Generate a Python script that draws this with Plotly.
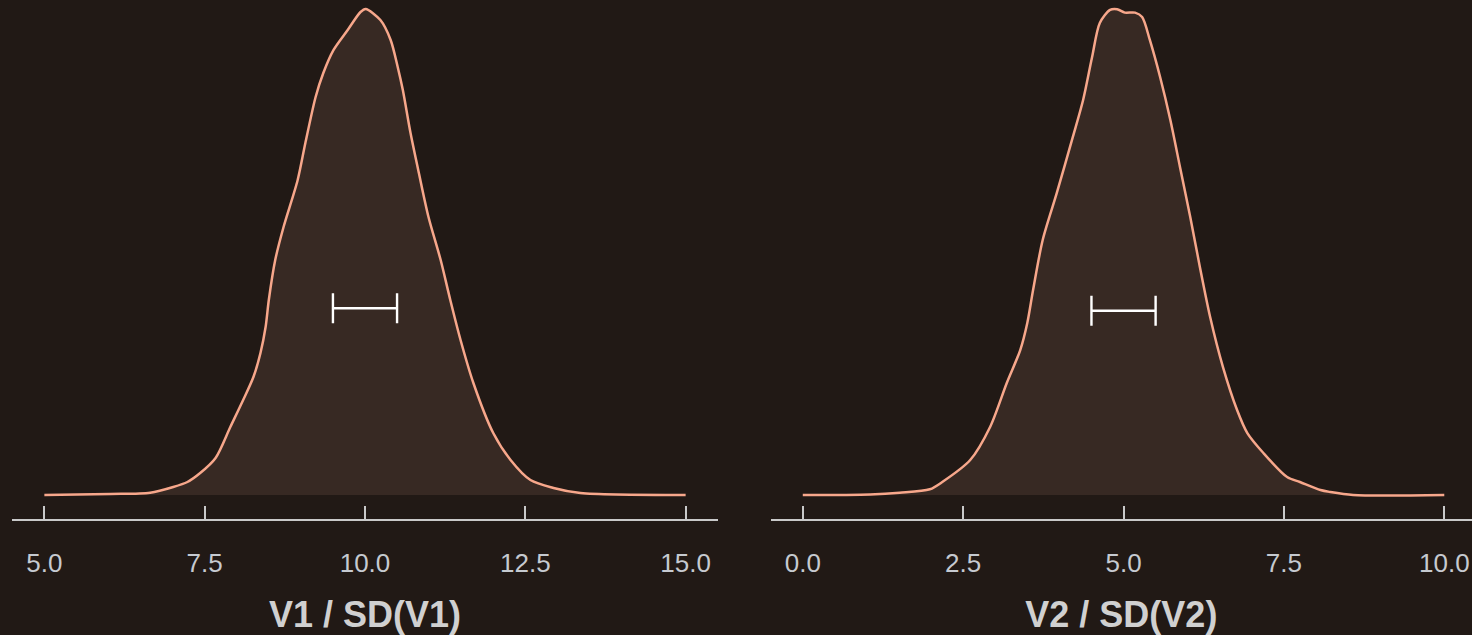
import plotly.graph_objects as go

# Density curve of V1 / SD(V1)
v1_x = [5.00, 6.03, 6.65, 7.01, 7.23, 7.43, 7.67, 7.90, 8.10, 8.26, 8.37, 8.45, 8.50, 8.60, 8.73,
        8.95, 9.07, 9.23, 9.35, 9.51, 9.73, 9.93, 10.01, 10.24, 10.40, 10.51, 10.59, 10.71, 10.84,
        10.99, 11.18, 11.33, 11.49, 11.69, 12.00, 12.27, 12.58, 12.94, 13.36, 15.00]
v1_y = [0.000, 0.0008, 0.0019, 0.0066, 0.0107, 0.0181, 0.0305, 0.056, 0.0782, 0.0971, 0.1169,
        0.1383, 0.1605, 0.1934, 0.2206, 0.2593, 0.2897, 0.3276, 0.3473, 0.3663, 0.3827, 0.3975,
        0.400, 0.3909, 0.3745, 0.3523, 0.3333, 0.2979, 0.265, 0.2288, 0.1934, 0.1605, 0.1276,
        0.0922, 0.051, 0.0288, 0.0123, 0.0058, 0.0016, 0.000]

# Density curve of V2 / SD(V2)
v2_x = [0.00, 1.05, 1.51, 1.98, 2.18, 2.61, 2.92, 3.18, 3.39, 3.50, 3.59, 3.74, 3.96, 4.21, 4.37,
        4.51, 4.63, 4.79, 4.90, 5.02, 5.18, 5.29, 5.41, 5.57, 5.73, 5.88, 6.04, 6.19, 6.35, 6.55,
        6.77, 6.93, 7.18, 7.55, 7.75, 8.07, 8.22, 8.58, 10.00]
v2_y = [0.000, 0.0005, 0.0019, 0.0047, 0.0109, 0.0288, 0.056, 0.0922, 0.1193, 0.1416, 0.1687,
        0.2099, 0.2486, 0.2947, 0.3251, 0.3605, 0.3885, 0.3992, 0.3998, 0.397, 0.397, 0.3934,
        0.3745, 0.344, 0.3086, 0.27, 0.2288, 0.1877, 0.1465, 0.1053, 0.07, 0.051, 0.0346, 0.0148,
        0.0107, 0.0041, 0.0025, 0.000, 0.000]

# Interval markers (centre, half-width, height)
v1_bar_center = [10.0]
v1_bar_half = [0.5]
v1_bar_y = [0.1537]
v2_bar_center = [5.0]
v2_bar_half = [0.5]
v2_bar_y = [0.1517]

v1_ticks = [5.0, 7.5, 10.0, 12.5, 15.0]
v1_ticktext = ["5.0", "7.5", "10.0", "12.5", "15.0"]
v2_ticks = [0.0, 2.5, 5.0, 7.5, 10.0]
v2_ticktext = ["0.0", "2.5", "5.0", "7.5", "10.0"]

BG = "#211915"
FILL = "#372923"
LINE = "#f7a78b"
AX = "#c9c9c9"
TXT = "#c6cad0"
TITLE = "#d0d0d0"
W, H = 1472, 635

fig = go.Figure()
for xs, ys, xa, ya in [(v1_x, v1_y, "x", "y"), (v2_x, v2_y, "x2", "y2")]:
    fig.add_trace(go.Scatter(x=xs, y=ys, xaxis=xa, yaxis=ya, mode="lines",
                             line=dict(color=LINE, width=2.5, shape="spline", smoothing=0.8),
                             fill="tozeroy", fillcolor=FILL, hoverinfo="skip", showlegend=False))

for cx, hw, cy, xa, ya in [(v1_bar_center, v1_bar_half, v1_bar_y, "x", "y"),
                           (v2_bar_center, v2_bar_half, v2_bar_y, "x2", "y2")]:
    fig.add_trace(go.Scatter(x=cx, y=cy, xaxis=xa, yaxis=ya, mode="markers",
                             marker=dict(size=1, color="rgba(0,0,0,0)"),
                             error_x=dict(type="data", array=hw, symmetric=True,
                                          color="#ffffff", thickness=2.4, width=15),
                             showlegend=False, hoverinfo="skip"))

y_range = [-0.01975, 0.4074]
xcommon = dict(showgrid=False, zeroline=False, showline=True, linecolor=AX, linewidth=2,
               ticks="inside", ticklen=13, tickwidth=2, tickcolor=AX,
               tickfont=dict(family="Liberation Sans, Arial, sans-serif", size=26, color=TXT),
               ticklabelstandoff=20)
title_font = dict(family="Liberation Sans, Arial, sans-serif", size=36, color=TITLE, weight="bold")

fig.update_layout(
    width=W, height=H,
    paper_bgcolor=BG, plot_bgcolor=BG,
    margin=dict(l=0, r=0, t=0, b=116),
    xaxis=dict(domain=[12.3 / W, 717.7 / W], range=[4.5, 15.5], tickvals=v1_ticks,
               ticktext=v1_ticktext,
               title=dict(text="V1 / SD(V1)", font=title_font, standoff=28), **xcommon),
    xaxis2=dict(domain=[770.7 / W, 1.0], range=[-0.5, 10.432], anchor="y2", tickvals=v2_ticks,
                ticktext=v2_ticktext,
                title=dict(text="V2 / SD(V2)", font=title_font, standoff=28), **xcommon),
    yaxis=dict(range=y_range, visible=False, anchor="x"),
    yaxis2=dict(range=y_range, visible=False, anchor="x2"),
)

fig.write_html("out.html",
               config={"displayModeBar": False},
               post_script="document.body.style.margin='0';"
                           "document.body.style.background='#211915';"
                           "document.body.style.overflow='hidden';")
